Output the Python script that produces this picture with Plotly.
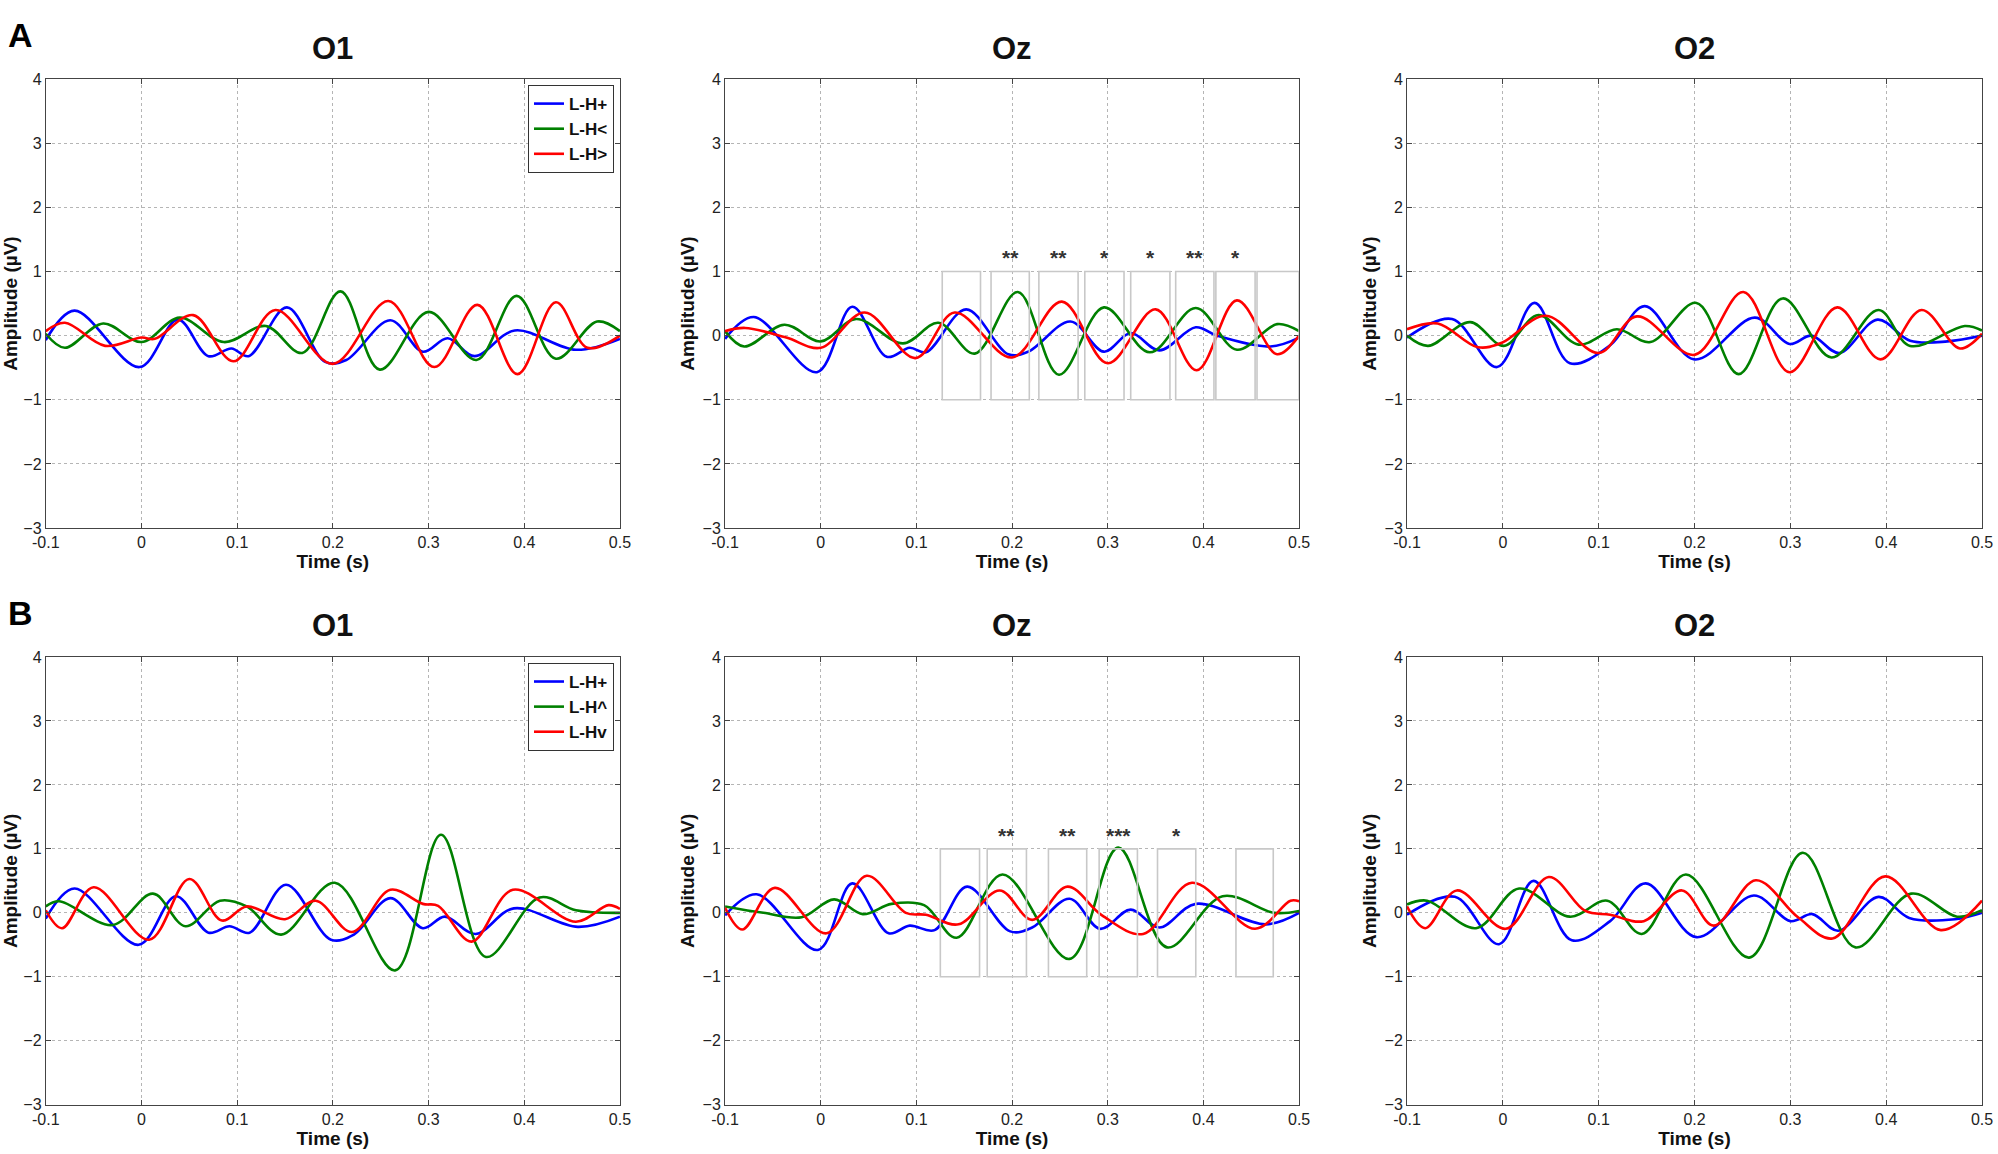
import plotly.graph_objects as go

# ---- Row A: L-H+ / L-H< / L-H>  (time in s, amplitude in uV) ----
a_o1_plus_t = [-0.1, -0.07, -0.002, 0.038, 0.07, 0.094, 0.112, 0.152, 0.192, 0.214, 0.26, 0.294, 0.32, 0.348, 0.39, 0.454, 0.5]
a_o1_plus_v = [-0.07, 0.39, -0.49, 0.25, -0.32, -0.2, -0.32, 0.44, -0.41, -0.38, 0.24, -0.25, -0.04, -0.32, 0.08, -0.22, -0.05]
a_o1_lt_t = [-0.1, -0.08, -0.04, 0.0, 0.04, 0.086, 0.13, 0.168, 0.208, 0.249, 0.3, 0.35, 0.392, 0.433, 0.476, 0.5]
a_o1_lt_v = [0.03, -0.19, 0.19, -0.1, 0.28, -0.1, 0.15, -0.27, 0.69, -0.53, 0.37, -0.38, 0.62, -0.36, 0.22, 0.07]
a_o1_gt_t = [-0.1, -0.08, -0.038, 0.0, 0.014, 0.054, 0.096, 0.14, 0.2, 0.258, 0.306, 0.351, 0.393, 0.433, 0.466, 0.5]
a_o1_gt_v = [0.07, 0.2, -0.16, -0.03, -0.05, 0.32, -0.4, 0.4, -0.44, 0.54, -0.49, 0.48, -0.6, 0.52, -0.19, 0.0]

a_oz_plus_t = [-0.1, -0.07, -0.004, 0.033, 0.069, 0.093, 0.11, 0.152, 0.196, 0.217, 0.261, 0.296, 0.324, 0.354, 0.392, 0.414, 0.47, 0.5]
a_oz_plus_v = [-0.05, 0.29, -0.57, 0.45, -0.33, -0.19, -0.26, 0.41, -0.29, -0.25, 0.22, -0.25, 0.04, -0.23, 0.13, 0.0, -0.17, -0.03]
a_oz_lt_t = [-0.1, -0.08, -0.038, 0.0, 0.037, 0.086, 0.123, 0.161, 0.206, 0.249, 0.296, 0.344, 0.392, 0.435, 0.477, 0.5]
a_oz_lt_v = [0.07, -0.17, 0.17, -0.09, 0.26, -0.12, 0.2, -0.28, 0.68, -0.61, 0.44, -0.26, 0.43, -0.22, 0.18, 0.07]
a_oz_gt_t = [-0.1, -0.079, -0.036, 0.0, 0.046, 0.099, 0.14, 0.2, 0.252, 0.3, 0.35, 0.393, 0.435, 0.477, 0.5]
a_oz_gt_v = [0.07, 0.12, -0.03, -0.19, 0.36, -0.35, 0.36, -0.34, 0.53, -0.43, 0.41, -0.54, 0.55, -0.29, 0.0]

a_o2_plus_t = [-0.1, -0.053, -0.006, 0.033, 0.07, 0.112, 0.148, 0.2, 0.263, 0.299, 0.322, 0.351, 0.391, 0.425, 0.464, 0.5]
a_o2_plus_v = [-0.03, 0.26, -0.49, 0.51, -0.43, -0.15, 0.46, -0.37, 0.28, -0.13, 0.0, -0.27, 0.25, -0.08, -0.09, 0.0]
a_o2_lt_t = [-0.1, -0.078, -0.034, 0.001, 0.037, 0.079, 0.119, 0.154, 0.202, 0.246, 0.292, 0.343, 0.392, 0.425, 0.482, 0.5]
a_o2_lt_v = [0.0, -0.16, 0.21, -0.16, 0.32, -0.14, 0.1, -0.1, 0.51, -0.6, 0.58, -0.34, 0.4, -0.16, 0.15, 0.08]
a_o2_gt_t = [-0.1, -0.068, -0.026, -0.001, 0.045, 0.1, 0.14, 0.2, 0.251, 0.299, 0.349, 0.394, 0.437, 0.477, 0.5]
a_o2_gt_v = [0.1, 0.19, -0.18, -0.11, 0.31, -0.27, 0.3, -0.3, 0.68, -0.57, 0.44, -0.37, 0.4, -0.2, 0.03]

# ---- Row B: L-H+ / L-H^ / L-Hv ----
b_o1_plus_t = [-0.1, -0.07, -0.003, 0.036, 0.07, 0.092, 0.113, 0.151, 0.198, 0.222, 0.26, 0.294, 0.317, 0.349, 0.389, 0.456, 0.5]
b_o1_plus_v = [-0.09, 0.38, -0.5, 0.26, -0.31, -0.21, -0.31, 0.44, -0.42, -0.34, 0.23, -0.24, -0.06, -0.33, 0.07, -0.22, -0.06]
b_o1_up_t = [-0.1, -0.086, -0.03, 0.012, 0.046, 0.082, 0.11, 0.146, 0.202, 0.265, 0.313, 0.36, 0.416, 0.454, 0.5]
b_o1_up_v = [0.1, 0.18, -0.19, 0.3, -0.21, 0.19, 0.1, -0.34, 0.47, -0.9, 1.22, -0.69, 0.24, 0.04, 0.0]
b_o1_down_t = [-0.1, -0.083, -0.05, 0.008, 0.05, 0.084, 0.11, 0.15, 0.182, 0.22, 0.26, 0.294, 0.31, 0.345, 0.388, 0.454, 0.488, 0.5]
b_o1_down_v = [0.04, -0.24, 0.4, -0.42, 0.53, -0.12, 0.1, -0.1, 0.19, -0.3, 0.36, 0.14, 0.11, -0.45, 0.36, -0.14, 0.12, 0.06]

b_oz_plus_t = [-0.1, -0.067, -0.003, 0.033, 0.071, 0.093, 0.119, 0.153, 0.198, 0.221, 0.26, 0.292, 0.324, 0.354, 0.392, 0.465, 0.5]
b_oz_plus_v = [-0.04, 0.29, -0.58, 0.46, -0.32, -0.2, -0.27, 0.41, -0.29, -0.23, 0.22, -0.25, 0.05, -0.23, 0.14, -0.18, 0.0]
b_oz_up_t = [-0.1, -0.06, -0.02, 0.014, 0.044, 0.074, 0.108, 0.142, 0.19, 0.26, 0.311, 0.362, 0.42, 0.474, 0.5]
b_oz_up_v = [0.1, 0.0, -0.07, 0.21, -0.02, 0.14, 0.12, -0.39, 0.6, -0.72, 1.02, -0.54, 0.26, 0.0, 0.03]
b_oz_down_t = [-0.1, -0.082, -0.048, 0.006, 0.048, 0.089, 0.11, 0.144, 0.187, 0.221, 0.258, 0.294, 0.337, 0.388, 0.454, 0.491, 0.5]
b_oz_down_v = [0.08, -0.26, 0.39, -0.32, 0.58, 0.0, -0.03, -0.18, 0.35, -0.11, 0.41, -0.04, -0.33, 0.47, -0.25, 0.19, 0.18]

b_o2_plus_t = [-0.1, -0.05, -0.004, 0.032, 0.072, 0.112, 0.149, 0.202, 0.262, 0.3, 0.323, 0.35, 0.392, 0.424, 0.472, 0.5]
b_o2_plus_v = [-0.03, 0.25, -0.49, 0.5, -0.43, -0.13, 0.46, -0.38, 0.27, -0.13, -0.02, -0.28, 0.25, -0.08, -0.1, 0.0]
b_o2_up_t = [-0.1, -0.079, -0.028, 0.017, 0.07, 0.109, 0.145, 0.191, 0.257, 0.313, 0.368, 0.426, 0.474, 0.5]
b_o2_up_v = [0.13, 0.19, -0.24, 0.38, -0.06, 0.19, -0.33, 0.6, -0.7, 0.94, -0.54, 0.3, -0.06, 0.04]
b_o2_down_t = [-0.1, -0.081, -0.048, 0.003, 0.048, 0.086, 0.112, 0.147, 0.187, 0.22, 0.264, 0.308, 0.344, 0.399, 0.457, 0.5]
b_o2_down_v = [0.1, -0.24, 0.35, -0.25, 0.56, 0.03, -0.03, -0.13, 0.35, -0.2, 0.51, -0.07, -0.4, 0.57, -0.27, 0.19]

# significance windows on Oz (start, end in s) and their stars
a_win_start = [0.127, 0.178, 0.228, 0.276, 0.324, 0.371, 0.413, 0.456]
a_win_end = [0.167, 0.218, 0.269, 0.317, 0.365, 0.411, 0.454, 0.5]
a_win_stars = ["", "**", "**", "*", "*", "**", "*", ""]
b_win_start = [0.125, 0.174, 0.238, 0.291, 0.352, 0.434]
b_win_end = [0.166, 0.215, 0.278, 0.331, 0.392, 0.473]
b_win_stars = ["", "**", "**", "***", "*", ""]

channels = ["O1", "Oz", "O2"]
names_a = ["L-H+", "L-H&lt;", "L-H&gt;"]
names_b = ["L-H+", "L-H^", "L-Hv"]
colors = ["#0000ff", "#008000", "#ff0000"]
x_ticks = [-0.1, 0, 0.1, 0.2, 0.3, 0.4, 0.5]
x_ticktext = ["-0.1", "0", "0.1", "0.2", "0.3", "0.4", "0.5"]
y_ticks = [-3, -2, -1, 0, 1, 2, 3, 4]

FONT = "Liberation Sans Narrow, Liberation Sans, Arial, sans-serif"
FONT_WIDE = "Liberation Sans, Arial, sans-serif"

rows = [
    [[(a_o1_plus_t, a_o1_plus_v), (a_o1_lt_t, a_o1_lt_v), (a_o1_gt_t, a_o1_gt_v)],
     [(a_oz_plus_t, a_oz_plus_v), (a_oz_lt_t, a_oz_lt_v), (a_oz_gt_t, a_oz_gt_v)],
     [(a_o2_plus_t, a_o2_plus_v), (a_o2_lt_t, a_o2_lt_v), (a_o2_gt_t, a_o2_gt_v)]],
    [[(b_o1_plus_t, b_o1_plus_v), (b_o1_up_t, b_o1_up_v), (b_o1_down_t, b_o1_down_v)],
     [(b_oz_plus_t, b_oz_plus_v), (b_oz_up_t, b_oz_up_v), (b_oz_down_t, b_oz_down_v)],
     [(b_o2_plus_t, b_o2_plus_v), (b_o2_up_t, b_o2_up_v), (b_o2_down_t, b_o2_down_v)]],
]
row_names = [names_a, names_b]
row_wins = [(a_win_start, a_win_end, a_win_stars), (b_win_start, b_win_end, b_win_stars)]

# panel placement (paper coords, figure fills the whole window)
x_domains = [[0.0229, 0.3103], [0.3629, 0.6502], [0.7042, 0.9920]]
y_domains = [[0.5424, 0.9315], [0.0427, 0.4307]]

fig = go.Figure()
layout = {}
annotations = []
shapes = []

for r in range(2):
    legend_id = "legend" if r == 0 else "legend2"
    for c in range(3):
        n = r * 3 + c + 1
        xa = "x" if n == 1 else f"x{n}"
        ya = "y" if n == 1 else f"y{n}"
        for k, (t, v) in enumerate(rows[r][c]):
            fig.add_trace(go.Scatter(
                x=t, y=v, xaxis=xa, yaxis=ya, mode="lines",
                line=dict(color=colors[k], width=2.6, shape="spline", smoothing=1.0),
                name=f"<b>{row_names[r][k]}</b>", showlegend=(c == 0), legend=legend_id,
                hoverinfo="skip",
            ))

        axis_common = dict(
            showline=True, linecolor="#444", linewidth=1, mirror="ticks",
            ticks="inside", ticklen=5, tickcolor="#444", automargin=False,
            showgrid=True, gridcolor="#b5b5b5", griddash="dot", gridwidth=1,
            zeroline=False, tickfont=dict(family=FONT, size=16, color="#222"),
        )
        layout["xaxis" if n == 1 else f"xaxis{n}"] = dict(
            axis_common, domain=x_domains[c], range=[-0.1, 0.5],
            tickvals=x_ticks, ticktext=x_ticktext, anchor=ya,
            title=dict(text="<b>Time (s)</b>", font=dict(family=FONT, size=19, color="#111"), standoff=2),
        )
        layout["yaxis" if n == 1 else f"yaxis{n}"] = dict(
            axis_common, domain=y_domains[r], range=[-3, 4],
            tickvals=y_ticks, anchor=xa,
            title=dict(text="<b>Amplitude (µV)</b>", font=dict(family=FONT, size=19, color="#111"), standoff=2),
        )

        # channel title
        annotations.append(dict(
            text=f"<b>{channels[c]}</b>", xref="paper", yref="paper",
            x=sum(x_domains[c]) / 2, y=y_domains[r][1] + 0.01,
            xanchor="center", yanchor="bottom", showarrow=False,
            font=dict(family=FONT_WIDE, size=31, color="#111"),
        ))

        # significance boxes on Oz
        if c == 1:
            starts, ends, stars = row_wins[r]
            for s, e, st in zip(starts, ends, stars):
                shapes.append(dict(type="rect", xref=xa, yref=ya, x0=s, x1=e, y0=-1, y1=1,
                                   line=dict(color="#c8c8c8", width=1.6)))
                if st:
                    annotations.append(dict(text=f"<b>{st}</b>", xref=xa, yref=ya,
                                            x=(s + e) / 2, y=1.0, yanchor="bottom",
                                            showarrow=False,
                                            font=dict(family=FONT_WIDE, size=21, color="#333")))

# row letters
for letter, yy in [("A", 0.988), ("B", 0.487)]:
    annotations.append(dict(text=f"<b>{letter}</b>", xref="paper", yref="paper",
                            x=0.003, y=yy, xanchor="left", yanchor="top", showarrow=False,
                            font=dict(family=FONT_WIDE, size=34, color="#000")))

legend_style = dict(
    xanchor="right", yanchor="top", bgcolor="white", bordercolor="#333", borderwidth=1,
    font=dict(family=FONT, size=17, color="#111"), itemwidth=30, tracegroupgap=0,
)
layout["legend"] = dict(legend_style, x=0.3073, y=0.9263)
layout["legend2"] = dict(legend_style, x=0.3073, y=0.4255)

fig.update_layout(
    **layout,
    width=1998, height=1154,
    margin=dict(l=0, r=0, t=0, b=0),
    paper_bgcolor="white", plot_bgcolor="white",
    annotations=annotations, shapes=shapes,
    font=dict(family=FONT),
)

# drop the default page margin so the figure sits at the window origin
fig.write_html(
    "out.html",
    config={"displayModeBar": False},
    post_script="document.body.style.margin='0';document.body.style.overflow='hidden';",
)
